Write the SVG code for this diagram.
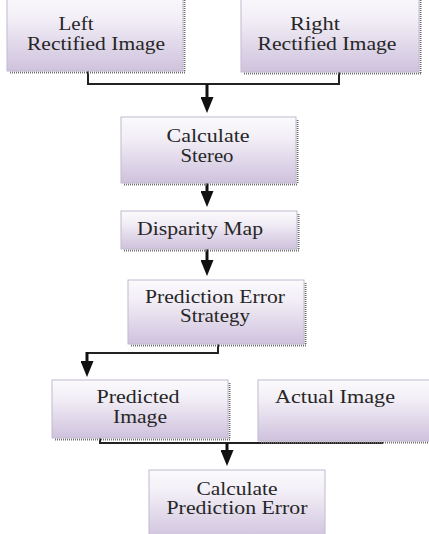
<svg xmlns="http://www.w3.org/2000/svg" width="429" height="534" viewBox="0 0 429 534">
<defs>
<linearGradient id="boxfill" x1="0" y1="0" x2="0" y2="1">
<stop offset="0" stop-color="#fbfafc"/>
<stop offset="0.3" stop-color="#f3eff7"/>
<stop offset="1" stop-color="#cfc2dd"/>
</linearGradient>
<marker id="arrow" markerUnits="userSpaceOnUse" markerWidth="16" markerHeight="13" viewBox="0 0 16 13" refX="10" refY="6.5" orient="auto">
<path d="M0,0 L16,6.5 L0,13 z" fill="#111"/>
</marker>
<style>
.box{fill:url(#boxfill);stroke:#c2bad0;stroke-width:1}
.shadow{fill:none;stroke:#6e6e6e;stroke-width:2;stroke-dasharray:1 1}
.lbl{font-family:"Liberation Serif","Times New Roman",serif;font-size:18.5px;fill:#262626;text-anchor:middle}
.wire{fill:none;stroke:#222;stroke-width:2}
.arr{fill:none;stroke:#111;stroke-width:3;marker-end:url(#arrow)}
</style>
</defs>
<rect width="429" height="534" fill="#ffffff"/>

<g id="connectors">
<path class="wire" d="M88,71 V84 H339 V72"/>
<line class="arr" x1="207" y1="84" x2="207" y2="107"/>
<line class="arr" x1="207" y1="183" x2="207" y2="201"/>
<line class="arr" x1="207" y1="249" x2="207" y2="270"/>
<path class="wire" d="M218,344 V353 H87 V365"/>
<line class="arr" x1="87" y1="352" x2="87" y2="371"/>
<path class="wire" d="M100,438 V443 H383"/>
<line class="arr" x1="227" y1="443" x2="227" y2="460"/>
</g>

<g id="left-rectified">
<path class="shadow" d="M10,72.5 H185 M184.5,-4 V72"/>
<rect class="box" x="7" y="-6" width="176" height="77"/>
<text class="lbl" x="76" y="30" textLength="35" lengthAdjust="spacingAndGlyphs">Left</text>
<text class="lbl" x="96" y="50" textLength="138" lengthAdjust="spacingAndGlyphs">Rectified Image</text>
</g>

<g id="right-rectified">
<path class="shadow" d="M244,73.5 H421 M420.5,-4 V73"/>
<rect class="box" x="241" y="-6" width="178" height="78"/>
<text class="lbl" x="315" y="30" textLength="50" lengthAdjust="spacingAndGlyphs">Right</text>
<text class="lbl" x="327" y="50" textLength="139" lengthAdjust="spacingAndGlyphs">Rectified Image</text>
</g>

<g id="calculate-stereo">
<path class="shadow" d="M124,184.5 H298 M297.5,120 V184"/>
<rect class="box" x="121" y="117" width="175" height="66"/>
<text class="lbl" x="208" y="142" textLength="83" lengthAdjust="spacingAndGlyphs">Calculate</text>
<text class="lbl" x="207" y="162" textLength="53" lengthAdjust="spacingAndGlyphs">Stereo</text>
</g>

<g id="disparity-map">
<path class="shadow" d="M124,250.5 H299 M298.5,214 V250"/>
<rect class="box" x="121" y="211" width="176" height="38"/>
<text class="lbl" x="200" y="235" textLength="126" lengthAdjust="spacingAndGlyphs">Disparity Map</text>
</g>

<g id="prediction-error-strategy">
<path class="shadow" d="M131,345.5 H306 M305.5,283 V345"/>
<rect class="box" x="128" y="280" width="176" height="64"/>
<text class="lbl" x="215" y="303" textLength="140" lengthAdjust="spacingAndGlyphs">Prediction Error</text>
<text class="lbl" x="215" y="322" textLength="70" lengthAdjust="spacingAndGlyphs">Strategy</text>
</g>

<g id="predicted-image">
<path class="shadow" d="M55,439.5 H230 M229.5,383 V439"/>
<rect class="box" x="52" y="380" width="176" height="58"/>
<text class="lbl" x="138" y="403" textLength="83" lengthAdjust="spacingAndGlyphs">Predicted</text>
<text class="lbl" x="140" y="423" textLength="54" lengthAdjust="spacingAndGlyphs">Image</text>
</g>

<g id="actual-image">
<path class="shadow" d="M261,442.5 H429"/>
<rect class="box" x="258" y="380" width="175" height="61"/>
<text class="lbl" x="335" y="403" textLength="120" lengthAdjust="spacingAndGlyphs">Actual Image</text>
</g>

<g id="calculate-prediction-error">
<rect class="box" x="149" y="470" width="176" height="70"/>
<text class="lbl" x="237" y="495" textLength="81" lengthAdjust="spacingAndGlyphs">Calculate</text>
<text class="lbl" x="237" y="514" textLength="141" lengthAdjust="spacingAndGlyphs">Prediction Error</text>
</g>
</svg>
